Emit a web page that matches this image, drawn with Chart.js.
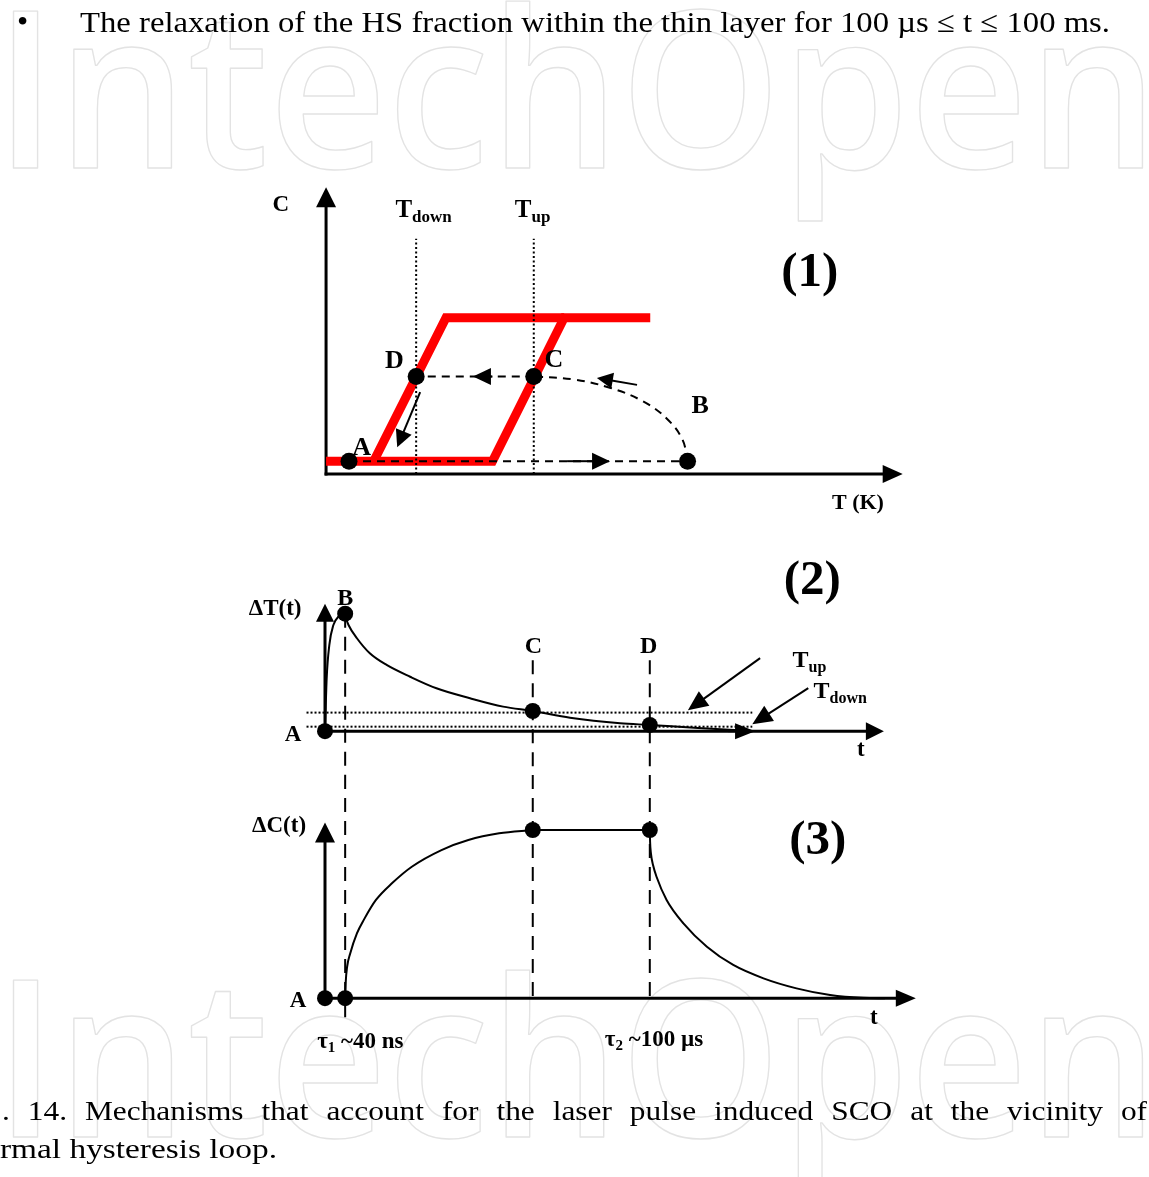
<!DOCTYPE html>
<html><head><meta charset="utf-8">
<script src="https://cdn.jsdelivr.net/npm/chart.js@4.4.1/dist/chart.umd.min.js"></script>
<style>
html,body{margin:0;padding:0;background:#fff;}
body{width:1149px;height:1177px;position:relative;overflow:hidden;}
canvas{position:absolute;}
.txt{position:absolute;white-space:nowrap;font-family:"Liberation Serif","Times New Roman",serif;color:#000;line-height:normal;transform-origin:0 0;}
</style></head><body>
<canvas id="wm" width="1149" height="1177" style="left:0;top:0"></canvas>
<div class="txt" id="bullet">•</div>
<div class="txt" id="topline">The relaxation of the HS fraction within the thin layer for 100 µs ≤ t ≤ 100 ms.</div>
<canvas id="c1" width="700" height="350" style="left:240px;top:170px"></canvas>
<canvas id="c2" width="700" height="235" style="left:241px;top:540px"></canvas>
<canvas id="c3" width="700" height="290" style="left:241px;top:775px"></canvas>
<div class="txt" id="cap1">. 14. Mechanisms that account for the laser pulse induced SCO at the vicinity of</div>
<div class="txt" id="cap2">rmal hysteresis loop.</div>
<script>
// ---------- Panel (1): hysteresis loop C(T) ----------
const loopLowerT = [0, 29, 41.5, 56.5];
const loopLowerC = [4.5, 4.5, 54.5, 54.5];
const loopUpperT = [8.3, 20.9, 41.5];
const loopUpperC = [4.5, 54.5, 54.5];
const T_down = 15.7;
const T_up = 36.2;
const guideC = [0, 82];
const statePointT = [4, 15.7, 36.2, 63];          // A, D, C, B
const statePointC = [4.5, 34, 34, 4.5];
const heatPathT = [4, 63];
const heatPathC = [4.5, 4.5];
const coolArcT = [63, 62.1, 59.4, 55.2, 49.6, 43.1, 36.2];
const coolArcC = [4.5, 12.1, 19.3, 25.4, 30, 33, 34];
const coolLineT = [36.2, 15.7];
const coolLineC = [34, 34];
const arrows1 = [[42, 4.5, 49.5, 4.5], [29, 34, 25.6, 34], [54.2, 31.1, 47.2, 33.5], [16.4, 28.6, 12.4, 9.4]];
const axisEnd1 = [100.5, 100];
const labels1 = ['C', 'T_down', 'T_up', '(1)', 'D', 'C', 'B', 'A', 'T (K)'];
const labels1X = [-7.9, 17, 36, 84.3, 11.9, 39.7, 65.2, 6.2, 92.7];
const labels1Y = [94.5, 92.6, 92.6, 71.1, 39.8, 40.4, 24.4, 9.6, -9.7];

// ---------- Panel (2): ΔT(t) ----------
const markerTimes = [3.6, 37.1, 58];
const riseT2 = [0, 0.3, 0.77, 1.5, 2.4, 3.6];
const riseDT = [0, 39.8, 64.9, 80, 86.2, 88.5];
const decayT2 = [3.6, 3.85, 4.2, 5.7, 8, 11, 15.2, 19.9, 25.9, 31.8, 37.1, 43.75, 52.7, 58, 66.6, 76.3];
const decayDT = [88.5, 84, 80, 70, 58.7, 49.9, 41, 32.3, 24.8, 18.5, 15.2, 10.2, 6, 4.7, 2.4, 0.2];
const pointsT2 = [0, 3.6, 37.1, 58];               // A, B, C, D
const pointsDT = [0, 88.5, 15.2, 4.7];
const levelUp = 14, levelDown = 3.4;
const levelSpan = [-3.3, 76.3];
const dashTop2 = [88.5, 53.5, 53.5];
const dashBottom2 = -33;
const arrows2 = [[77.7, 55, 64.8, 15.8], [86.3, 32.4, 76.3, 5.3], [72, 0, 76.8, 0]];
const axisEnd2 = [99.8, 96];
const labels2 = ['ΔT(t)', 'B', 'C', 'D', 'A', 't', 'T_up', 'T_down', '(2)'];
const labels2X = [-8.9, 3.6, 37.2, 57.8, -5.7, 95.7, 86.5, 92, 87];
const labels2Y = [93.6, 101.1, 64.5, 64.5, -1.4, -12.7, 54, 30.7, 115.4];

// ---------- Panel (3): ΔC(t) ----------
const riseT3 = [3.6, 3.7, 3.95, 4.5, 5.7, 7, 9.1, 12, 15.5, 20.8, 25.6, 31.1, 37.1];
const riseDC = [0, 9, 17.9, 25.5, 36.9, 45, 55.9, 65.5, 74.8, 84.3, 90, 93.8, 95.7];
const plateauT = [37.1, 58];
const plateauDC = [95.7, 95.7];
const decayT3 = [58, 58.05, 58.2, 58.6, 59.2, 61, 64, 68.2, 72.9, 78.3, 84.2, 90.2, 96.1, 100];
const decayDC = [95.7, 89, 82.4, 75.5, 69.1, 55.9, 42.6, 29.3, 18.9, 11.3, 5.6, 1.8, 0.2, 0];
const pointsT3 = [0, 3.6, 37.1, 58];
const pointsDC = [0, 0, 95.7, 95.7];
const dashTop3 = 127;
const dashBottom3 = [-10.8, 0, 0];
const axisEnd3 = [105.5, 100];
const labels3 = ['ΔC(t)', 'A', 't', 'τ_1_ ~40 ns', 'τ_2_ ~100 µs', '(3)'];
const labels3X = [-8.2, -4.8, 98, 6.3, 58.75, 88];
const labels3Y = [98.9, -0.7, -10.4, -23.8, -22.6, 91];

// ---------- helpers ----------
const SERIF = '"Liberation Serif","Times New Roman",serif';
const pts = (xs, ys) => xs.map((x, i) => ({x, y: ys[i]}));
function line(xs, ys, opt) {
  return Object.assign({data: pts(xs, ys), showLine: true, pointRadius: 0, pointHoverRadius: 0,
    borderColor: '#000', backgroundColor: '#000', borderWidth: 2, fill: false, clip: false, tension: 0,
    borderCapStyle: 'butt', borderJoinStyle: 'miter', order: 3}, opt || {});
}
function dots(xs, ys, r) {
  return {data: pts(xs, ys), showLine: false, pointRadius: r, pointHoverRadius: r,
    pointBackgroundColor: '#000', pointBorderColor: '#000', pointBorderWidth: 0, borderWidth: 0, clip: false, order: 0};
}
function drawArrow(ctx, x0, y0, x1, y1, L, W, lw) {
  const dx = x1 - x0, dy = y1 - y0, len = Math.hypot(dx, dy), ux = dx / len, uy = dy / len;
  const bx = x1 - ux * L, by = y1 - uy * L;
  ctx.save();
  ctx.strokeStyle = '#000'; ctx.fillStyle = '#000'; ctx.lineWidth = lw; ctx.lineCap = 'butt'; ctx.setLineDash([]);
  if (len > L) { ctx.beginPath(); ctx.moveTo(x0, y0); ctx.lineTo(bx + ux, by + uy); ctx.stroke(); }
  ctx.beginPath(); ctx.moveTo(x1, y1);
  ctx.lineTo(bx - uy * W, by + ux * W); ctx.lineTo(bx + uy * W, by - ux * W);
  ctx.closePath(); ctx.fill();
  ctx.restore();
}
function drawLabel(ctx, px, py, text, size) {
  const parts = text.split('_');
  const sub = Math.round(size * 0.66);
  let total = 0;
  const ws = parts.map((t, i) => { ctx.font = `bold ${i % 2 ? sub : size}px ${SERIF}`; const w = ctx.measureText(t).width; total += w; return w; });
  let x = px - total / 2;
  const base = py + size * 0.33;
  ctx.fillStyle = '#000'; ctx.textAlign = 'left'; ctx.textBaseline = 'alphabetic';
  parts.forEach((t, i) => {
    ctx.font = `bold ${i % 2 ? sub : size}px ${SERIF}`;
    ctx.fillText(t, x, base + (i % 2 ? size * 0.2 : 0));
    x += ws[i];
  });
}
const diagramPlugin = {
  id: 'diagram',
  beforeDatasetsDraw(chart, args, o) {
    const {ctx, scales: {x, y}} = chart;
    const ox = x.getPixelForValue(0), oy = y.getPixelForValue(0);
    drawArrow(ctx, ox, oy + 1.5, ox, y.getPixelForValue(o.axisEnd[1]), o.axisHead[0], o.axisHead[1], 3);
    drawArrow(ctx, ox - 1.5, oy, x.getPixelForValue(o.axisEnd[0]), oy, o.axisHead[0], o.axisHead[2], 3);
  },
  afterDatasetsDraw(chart, args, o) {
    const {ctx, scales: {x, y}} = chart;
    o.arrows.forEach((a, i) => drawArrow(ctx, x.getPixelForValue(a[0]), y.getPixelForValue(a[1]),
      x.getPixelForValue(a[2]), y.getPixelForValue(a[3]), o.arrowHead[i][0], o.arrowHead[i][1], 2));
    o.labels.forEach((t, i) => drawLabel(ctx, x.getPixelForValue(o.labelX[i]), y.getPixelForValue(o.labelY[i]), t, o.labelSize[i]));
  }
};
function makeChart(id, xr, yr, datasets, diag) {
  return new Chart(document.getElementById(id), {
    type: 'scatter',
    data: {datasets},
    options: {
      responsive: false, animation: false, events: [], devicePixelRatio: 1,
      layout: {padding: 0, autoPadding: false},
      plugins: {legend: {display: false}, tooltip: {enabled: false}, diagram: diag},
      scales: {
        x: {type: 'linear', min: xr[0], max: xr[1], display: false},
        y: {type: 'linear', min: yr[0], max: yr[1], display: false}
      }
    },
    plugins: [diagramPlugin]
  });
}

// ---------- Panel 1 ----------
const RED = {borderColor: '#ff0000', borderWidth: 9, order: 10};
const DOT = {borderDash: [2, 2.5], borderWidth: 2, order: 5};
const DASH1 = {borderDash: [8, 6], borderWidth: 2, order: 4};
makeChart('c1', [-15, 107], [-16, 106], [
  line(loopLowerT, loopLowerC, RED),
  line(loopUpperT, loopUpperC, RED),
  line([T_down, T_down], guideC, DOT),
  line([T_up, T_up], guideC, DOT),
  line(heatPathT, heatPathC, DASH1),
  line(coolArcT, coolArcC, Object.assign({tension: 0.4}, DASH1)),
  line(coolLineT, coolLineC, DASH1),
  dots(statePointT, statePointC, 8.5)
], {
  axisEnd: axisEnd1, axisHead: [20, 10, 9],
  arrows: arrows1, arrowHead: [[18, 8.5], [18, 8.5], [16, 8], [17, 8.5]],
  labels: labels1, labelX: labels1X, labelY: labels1Y,
  labelSize: [23, 25, 25, 49, 26, 26, 26, 26, 22]
});

// ---------- Panel 2 ----------
const DOT2 = {borderDash: [2, 2], borderWidth: 2, order: 5};
const DASH2 = {borderDash: [14, 9], borderWidth: 2, order: 4};
const CURVE = {borderWidth: 2, cubicInterpolationMode: 'monotone', order: 3};
makeChart('c2', [-15, 110], [-33, 144], [
  line(levelSpan, [levelUp, levelUp], DOT2),
  line(levelSpan, [levelDown, levelDown], DOT2),
  ...markerTimes.map((t, i) => line([t, t], [dashTop2[i], dashBottom2], DASH2)),
  line(riseT2, riseDT, CURVE),
  line(decayT2, decayDT, CURVE),
  dots(pointsT2, pointsDT, 8)
], {
  axisEnd: axisEnd2, axisHead: [18, 9, 9],
  arrows: arrows2, arrowHead: [[20, 9], [20, 9], [20, 8]],
  labels: labels2, labelX: labels2X, labelY: labels2Y,
  labelSize: [23, 24, 24, 24, 23, 23, 24, 24, 49]
});

// ---------- Panel 3 ----------
makeChart('c3', [-15, 110], [-38, 127], [
  ...markerTimes.map((t, i) => line([t, t], [dashTop3, dashBottom3[i]], DASH2)),
  line(riseT3, riseDC, CURVE),
  line(plateauT, plateauDC, CURVE),
  line(decayT3, decayDC, CURVE),
  dots(pointsT3, pointsDC, 8)
], {
  axisEnd: axisEnd3, axisHead: [20, 10, 8.5],
  arrows: [], arrowHead: [],
  labels: labels3, labelX: labels3X, labelY: labels3Y,
  labelSize: [23, 23, 23, 23, 23, 49]
});

// ---------- page text ----------
function placeText(id, left, baseline, size, width, justify, sx) {
  const el = document.getElementById(id);
  el.style.fontSize = size + 'px';
  el.style.left = left + 'px';
  el.style.top = (baseline - 0.891 * size) + 'px';
  const natural = el.getBoundingClientRect().width;
  if (justify) {
    const n = (el.textContent.match(/ /g) || []).length;
    el.style.wordSpacing = ((width / sx - natural) / n) + 'px';
    el.style.transform = `scaleX(${sx})`;
  } else if (width) {
    el.style.transform = `scaleX(${width / natural})`;
  }
}
placeText('bullet', 17, 32, 32);
placeText('topline', 80, 32, 30, 1030);
placeText('cap1', 2, 1120, 28, 1145, true, 1.12);
placeText('cap2', 0, 1158, 28, 277);

// ---------- watermark ----------
(function () {
  const c = document.getElementById('wm'), ctx = c.getContext('2d');
  const fam = '"Open Sans", Lato, sans-serif';
  const word = 'IntechOpen';
  let size = 200;
  ctx.font = `600 ${size}px ${fam}`;
  const capH = ctx.measureText('I').actualBoundingBoxAscent;
  size = size * 157 / capH;
  ctx.font = `600 ${size}px ${fam}`;
  const m = ctx.measureText(word);
  const w = m.actualBoundingBoxRight + m.actualBoundingBoxLeft;
  const sx = (1143 - 13) / w;
  ctx.strokeStyle = '#e3e3e3'; ctx.lineWidth = 1.4; ctx.lineJoin = 'round';
  [168, 1137].forEach(base => {
    ctx.save(); ctx.translate(13, base); ctx.scale(sx, 1);
    ctx.strokeText(word, m.actualBoundingBoxLeft, 0);
    ctx.restore();
  });
})();
</script>
</body></html>
